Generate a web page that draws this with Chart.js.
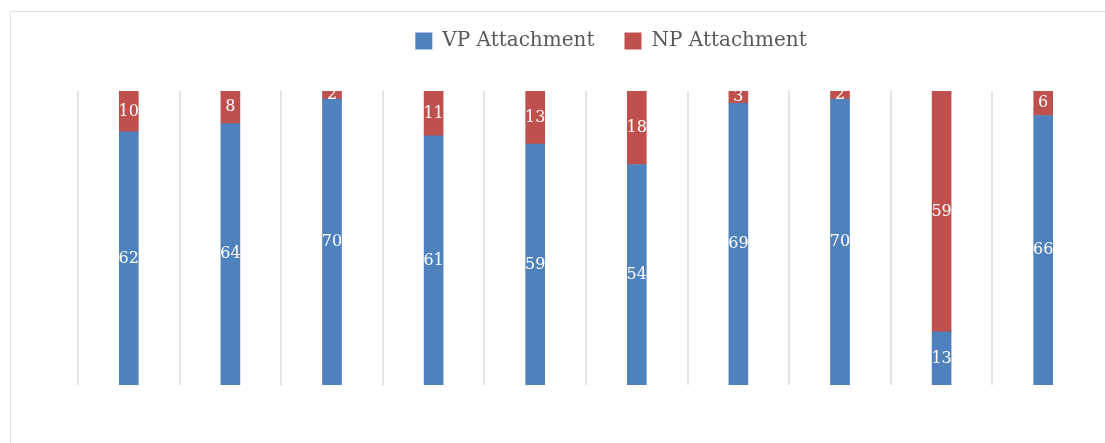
<!DOCTYPE html>
<html>
<head>
<meta charset="utf-8">
<script src="https://cdn.jsdelivr.net/npm/chart.js@4"></script>
<style>
  html, body { margin: 0; padding: 0; background: #fff; }
  #wrap { position: absolute; left: 0; top: 0; width: 1105px; height: 443px; }
  #frame { position: absolute; left: 10px; top: 11px; width: 1200px; height: 500px; border: 1px solid #e3e3e3; }
</style>
</head>
<body>
<div id="frame"></div>
<div id="wrap"><canvas id="chart" width="1105" height="443"></canvas></div>
<script>
// données
const categories = ['1', '2', '3', '4', '5', '6', '7', '8', '9', '10'];
const vpValues = [62, 64, 70, 61, 59, 54, 69, 70, 13, 66];
const npValues = [10, 8, 2, 11, 13, 18, 3, 2, 59, 6];

// étiquettes blanches au centre de chaque segment
const segmentLabels = {
  id: 'segmentLabels',
  afterDatasetsDraw(chart) {
    const ctx = chart.ctx;
    ctx.save();
    ctx.fillStyle = '#ffffff';
    ctx.font = '16px "DejaVu Serif"';
    ctx.textAlign = 'center';
    ctx.textBaseline = 'middle';
    chart.data.datasets.forEach((ds, i) => {
      chart.getDatasetMeta(i).data.forEach((bar, j) => {
        const mid = (bar.y + bar.base) / 2;
        ctx.fillText(String(ds.data[j]), bar.x, mid);
      });
    });
    ctx.restore();
  }
};

// espace sous la légende + léger décalage vers la droite
const legendMargin = {
  id: 'legendMargin',
  beforeInit(chart) {
    const fit = chart.legend.fit;
    chart.legend.fit = function () {
      fit.bind(chart.legend)();
      this.height += 30;
    };
  },
  afterLayout(chart) {
    chart.legend.left += 25;
    chart.legend.right += 25;
  }
};

const ctx = document.getElementById('chart').getContext('2d');
new Chart(ctx, {
  type: 'bar',
  data: {
    labels: categories,
    datasets: [
      {
        label: 'VP Attachment',
        data: vpValues,
        backgroundColor: '#4f81bd',
        barThickness: 19
      },
      {
        label: 'NP Attachment',
        data: npValues,
        backgroundColor: '#c0504d',
        barThickness: 19
      }
    ]
  },
  options: {
    responsive: false,
    animation: false,
    layout: { padding: { left: 78, right: 11, top: 1, bottom: 58 } },
    scales: {
      x: {
        stacked: true,
        grid: {
          offset: true,
          drawTicks: false,
          lineWidth: 2,
          color: (c) => (c.index === undefined || c.index >= categories.length) ? 'rgba(0,0,0,0)' : '#e4e4e4'
        },
        border: { display: false },
        ticks: { display: false }
      },
      y: {
        stacked: true,
        display: false,
        min: 0,
        max: 72
      }
    },
    plugins: {
      legend: {
        display: true,
        position: 'top',
        labels: {
          boxWidth: 17,
          boxHeight: 17,
          color: '#595959',
          padding: 30,
          font: { family: 'DejaVu Serif', size: 20 }
        }
      },
      tooltip: { enabled: false }
    }
  },
  plugins: [segmentLabels, legendMargin]
});
</script>
</body>
</html>
